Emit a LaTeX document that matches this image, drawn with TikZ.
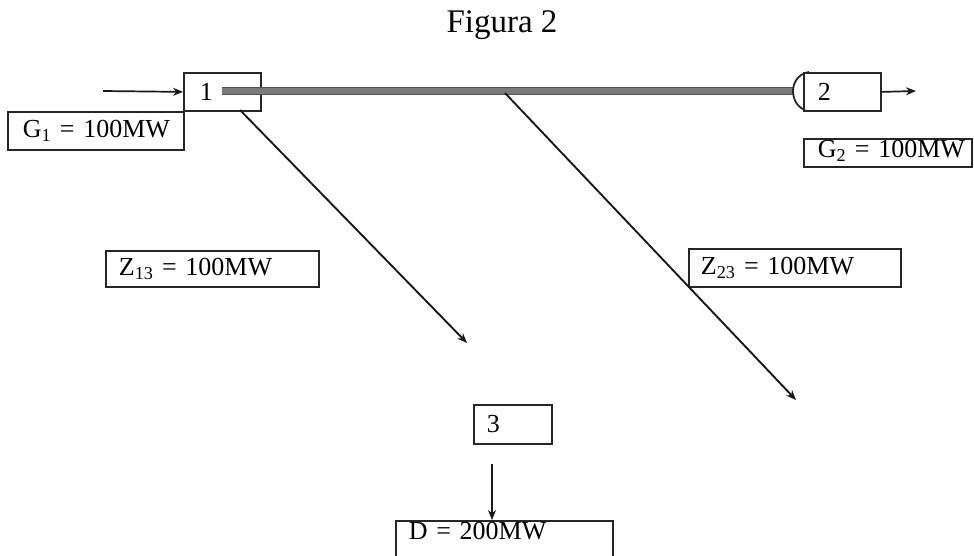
\documentclass[tikz,border=0pt]{standalone}
\usepackage{fontspec}
\setmainfont{Liberation Serif}
\usetikzlibrary{arrows.meta}
\begin{document}
\begin{tikzpicture}[x=1pt,y=-1pt,
  lbl/.style={draw=black!85, line width=1.8pt, anchor=north west,
    inner ysep=0pt, align=left, font=\fontsize{26}{30}\selectfont},
  tip/.style={-{Stealth[length=10pt,width=8pt]}},
  arr/.style={line width=1.7pt, black!90, tip},
  link/.style={line width=1.9pt, black!90, tip},
]
\useasboundingbox (0,0) rectangle (974,556);
\clip (0,0) rectangle (974,556);

% title
\node[font=\fontsize{33}{38}\selectfont, anchor=base] (title) at (502,33) {Figura 2};

% buses
\node[lbl, minimum width=77pt, minimum height=38pt, inner xsep=16pt, text width=45pt] (n1) at (183,72) {1};
\node[lbl, minimum width=77pt, minimum height=38pt, inner xsep=14pt, text width=49pt] (n2) at (803,72) {2};
\node[lbl, minimum width=78pt, minimum height=39pt, inner xsep=13pt, text width=52pt] (n3) at (473,404) {3};

% quantities
\node[lbl, minimum width=176pt, minimum height=38pt, inner xsep=15pt, text width=146pt] (g1) at (7,111) {\mbox{G\textsubscript{1} = 100MW}};
\node[lbl, inner xsep=14pt, text width=140pt, text height=19pt, text depth=9pt] (g2) at (803,138) {\mbox{G\textsubscript{2} = 100MW}};
\node[lbl, minimum width=213pt, minimum height=36pt, inner xsep=13pt, text width=187pt] (z13) at (105,250) {\mbox{Z\textsubscript{13} = 100MW}};
\node[lbl, minimum width=212pt, minimum height=38pt, inner xsep=12pt, text width=188pt] (z23) at (688,248) {\mbox{Z\textsubscript{23} = 100MW}};
\node[lbl, inner xsep=13pt, text width=191pt, text height=18pt, text depth=34pt, inner ysep=1pt] (d) at (395,520) {\mbox{D = 200MW}};

% thick line between buses 1 and 2
\coordinate (bs) at (222,91);
\coordinate (be) at (794,91);
\draw[line width=8.5pt, black!68] (bs) -- (be);
\draw[line width=5.5pt, black!52] (bs) -- (be);
% rounded end at bus 2
\draw[line width=1.8pt, black!85] (809,72) .. controls (797,74) and (793,84) .. (793,91)
  .. controls (793,99) and (797,107) .. (805,110);

% injections and load
\coordinate (gin) at (103,91);
\coordinate (gout) at (916,91);
\draw[arr] (gin) -- (n1.west);
\draw[arr] (n2.east) -- (gout);
\coordinate (c3) at (492,464);
\draw[arr] (c3) -- (c3 |- d.north);

% flows
\coordinate (l1s) at (240,110);
\coordinate (t1) at (467,343);
\draw[link] (l1s) -- (t1);
\coordinate (j) at (505,93);
\coordinate (t2) at (796,400);
\draw[link] (j) -- (t2);
\end{tikzpicture}
\end{document}
